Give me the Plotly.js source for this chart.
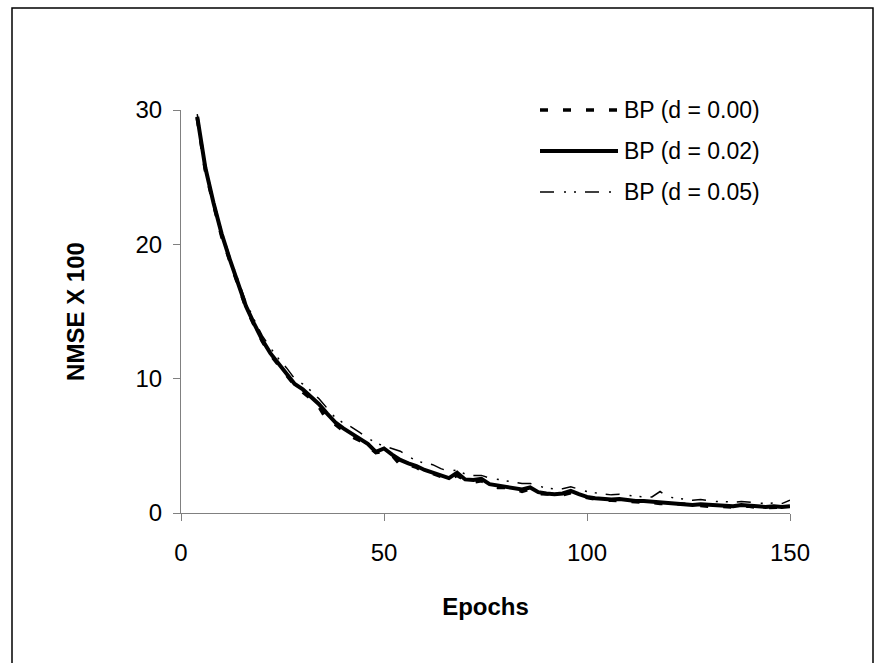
<!DOCTYPE html>
<html>
<head>
<meta charset="utf-8">
<script src="https://cdn.plot.ly/plotly-3.0.1.min.js"></script>
<style>
html,body{margin:0;padding:0;background:#fff;}
#chart{width:879px;height:663px;}
</style>
</head>
<body>
<div id="chart"></div>
<script>
// ---- data ----
var seriesNames = ["BP (d = 0.00)", "BP (d = 0.02)", "BP (d = 0.05)"];
var epochs = [4,6,8,10,12,14,16,18,20,22,24,26,28,30,32,34,36,38,40,42,44,46,48,50,
  52,54,56,58,60,62,64,66,68,70,72,74,76,78,80,82,84,86,88,90,92,94,96,98,100,
  102,104,106,108,110,112,114,116,118,120,122,124,126,128,130,132,134,136,138,140,
  142,144,146,148,150];
var nmseD000 = [29.4,25.5,23.0,20.6,18.8,17.0,15.3,14.0,12.8,11.8,11.0,10.2,9.5,9.0,8.5,7.9,6.9,6.6,6.1,5.7,5.4,5.0,4.5,4.6,
  4.3,3.6,3.6,3.4,3.0,2.95,2.7,2.5,2.8,2.45,2.3,2.4,2.05,1.9,1.9,1.8,1.6,1.8,1.45,1.4,1.35,1.35,1.5,1.3,1.15,
  1.05,0.95,0.95,0.9,0.9,0.85,0.8,0.8,0.7,0.75,0.7,0.6,0.55,0.55,0.5,0.5,0.45,0.45,0.5,0.5,
  0.4,0.4,0.45,0.4,0.45];
var nmseD002 = [29.5,25.7,23.1,20.8,18.9,17.1,15.4,14.1,12.9,11.9,11.1,10.4,9.6,9.2,8.65,8.1,7.4,6.75,6.3,5.9,5.5,5.15,4.55,4.8,
  4.35,3.95,3.7,3.5,3.2,3.0,2.75,2.6,3.0,2.5,2.45,2.55,2.15,2.05,1.95,1.85,1.75,1.9,1.55,1.45,1.4,1.45,1.65,1.4,1.2,
  1.1,1.05,1.0,1.05,0.95,0.9,0.9,0.85,0.85,0.8,0.75,0.7,0.6,0.65,0.6,0.55,0.55,0.5,0.6,0.55,
  0.5,0.45,0.5,0.45,0.5];
var nmseD005 = [29.7,25.9,23.3,21.0,19.1,17.4,15.7,14.4,13.2,12.3,11.5,10.8,10.0,9.6,9.1,8.5,7.8,7.1,6.7,6.4,6.0,5.6,5.2,5.0,
  4.8,4.6,4.2,3.9,3.7,3.6,3.3,3.1,3.2,2.9,2.8,2.8,2.6,2.5,2.35,2.25,2.2,2.2,2.0,1.85,1.8,1.8,1.95,1.75,1.6,
  1.5,1.4,1.35,1.4,1.3,1.25,1.2,1.2,1.6,1.2,1.1,1.05,0.95,1.0,0.9,0.85,0.85,0.8,0.85,0.8,
  0.75,0.7,0.75,0.7,0.95];
var xTickVals = [0,50,100,150];
var yTickVals = [0,10,20,30];
var xTitle = "Epochs";
var yTitle = "NMSE X 100";

// ---- styles ----
var styles = [
  {color:"#000", width:3.5, dash:"8px,15px"},
  {color:"#000", width:4, dash:"solid"},
  {color:"#000", width:1.5, dash:"14px,10px,2px,8px,2px,9px"}
];
var seriesData = [nmseD000, nmseD002, nmseD005];

var traces = seriesData.map(function(vals, i){
  return {x: epochs, y: vals, type:"scatter", mode:"lines", name: seriesNames[i],
    line:{color:styles[i].color, width:styles[i].width, dash:styles[i].dash},
    showlegend:false, hoverinfo:"skip"};
});

// plot area in px
var L = 181, R = 790, T = 110, B = 513, W = 879, H = 663;
var pw = R - L, ph = B - T;
function px(xp){ return (xp - L) / pw; }
function py(yp){ return (B - yp) / ph; }

var shapes = [
  // outer frame
  {type:"rect", xref:"paper", yref:"paper", x0:px(12), x1:px(873), y0:py(666), y1:py(8),
   line:{color:"#000", width:1.5}, fillcolor:"rgba(0,0,0,0)", layer:"below"}
];
var annotations = [];
var legendY = [110, 151, 192];
seriesNames.forEach(function(nm, i){
  shapes.push({type:"line", xref:"paper", yref:"paper", x0:px(540), x1:px(618),
    y0:py(legendY[i]), y1:py(legendY[i]),
    line:{color:styles[i].color, width:styles[i].width, dash:styles[i].dash}});
  annotations.push({xref:"paper", yref:"paper", x:px(622), y:py(legendY[i]),
    xanchor:"left", yanchor:"middle", text:nm, showarrow:false,
    font:{family:"Liberation Sans, Arial, sans-serif", size:23, color:"#000"}});
});

var layout = {
  width: W, height: H,
  margin:{l:L, r:W-R, t:T, b:H-B, pad:0},
  paper_bgcolor:"#fff", plot_bgcolor:"#fff",
  font:{family:"Liberation Sans, Arial, sans-serif", size:24, color:"#000"},
  showlegend:false,
  xaxis:{range:[0,150], tickvals:xTickVals, ticks:"outside", ticklen:7, tickwidth:1,
    tickcolor:"#808080", showline:true, linecolor:"#808080", linewidth:1,
    showgrid:false, zeroline:false, ticklabelstandoff:11,
    tickfont:{size:24}, fixedrange:true,
    title:{text:xTitle, font:{size:24, weight:"bold"}, standoff:33}},
  yaxis:{range:[0,30], tickvals:yTickVals, ticks:"outside", ticklen:7, tickwidth:1,
    tickcolor:"#808080", showline:true, linecolor:"#808080", linewidth:1,
    showgrid:false, zeroline:false, ticklabelstandoff:6,
    tickfont:{size:24}, fixedrange:true,
    title:{text:yTitle, font:{size:24, weight:"bold"}, standoff:44}},
  shapes: shapes,
  annotations: annotations
};

Plotly.newPlot("chart", traces, layout, {staticPlot:true, displayModeBar:false});
</script>
</body>
</html>
